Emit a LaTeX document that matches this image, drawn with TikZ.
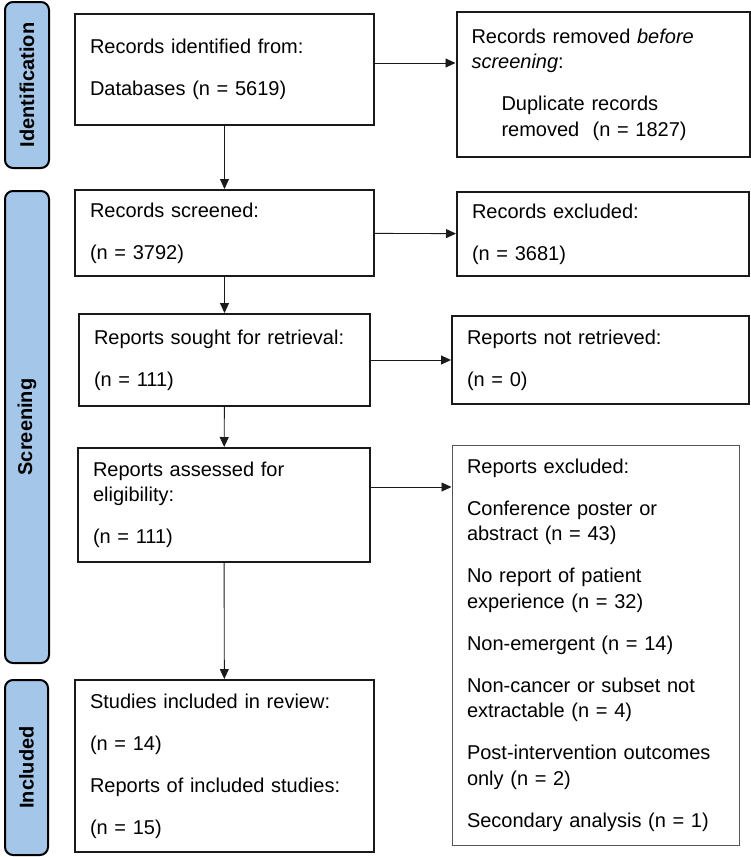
\documentclass[tikz,border=0pt]{standalone}
\usepackage{fontspec}
\setmainfont{Liberation Sans}
\definecolor{stage}{HTML}{A4C6E8}
\definecolor{edge}{HTML}{1A1A1A}
\definecolor{thinedge}{HTML}{555555}
\usetikzlibrary{arrows.meta}

\begin{document}
\begin{tikzpicture}[x=1pt,y=-1pt,>={Triangle[length=10pt,width=9pt]},
  every node/.style={font=\fontsize{20}{25.5}\selectfont},
  box/.style={draw=edge,line width=2pt,rectangle,align=left,inner xsep=15pt,inner ysep=0pt},
  bar/.style={draw=black,line width=2pt,fill=stage,rounded corners=8pt,rotate=90,inner sep=0pt,font=\fontsize{20}{24}\selectfont\bfseries}]
\useasboundingbox (0,0) rectangle (751,857);
% stages
\node[bar,minimum width=166pt,minimum height=44pt] (S1) at (27,85) {Identification};
\node[bar,minimum width=472pt,minimum height=44pt] (S2) at (27,427) {Screening};
\node[bar,minimum width=175pt,minimum height=43pt] (S3) at (26.5,767.5) {Included};
% boxes
\node[box,text width=269pt,minimum height=111pt] (A) at (224.5,69.5) {Records identified from:\\[16.5pt]Databases (n = 5619)};
\node[box,text width=263pt,minimum height=145pt] (B) at (603,84.5) {Records removed \textit{before}\\\textit{screening}:\\[16.5pt]\hspace*{30pt}Duplicate records\\\hspace*{30pt}removed\ \ (n = 1827)};
\node[box,text width=269pt,minimum height=86pt] (C) at (224.5,233) {Records screened:\\[16.5pt](n = 3792)};
\node[box,text width=262pt,minimum height=84pt] (D) at (603,234) {Records excluded:\\[16.5pt](n = 3681)};
\node[box,text width=261pt,minimum height=92pt] (E) at (224.5,360) {Reports sought for retrieval:\\[16.5pt](n = 111)};
\node[box,text width=267pt,minimum height=88pt] (F) at (600.5,360) {Reports not retrieved:\\[16.5pt](n = 0)};
\node[box,text width=262pt,minimum height=114pt] (G) at (224,505) {Reports assessed for\\eligibility:\\[16.5pt](n = 111)};
\node[box,draw=thinedge,line width=1pt,text width=257pt,minimum height=400pt] (H) at (595.5,645) {Reports excluded:\\[16.5pt]Conference poster or\\abstract (n = 43)\\[16.5pt]No report of patient\\experience (n = 32)\\[16.5pt]Non-emergent (n = 14)\\[16.5pt]Non-cancer or subset not\\extractable (n = 4)\\[16.5pt]Post-intervention outcomes\\only (n = 2)\\[16.5pt]Secondary analysis (n = 1)};
\node[box,text width=269pt,minimum height=172pt] (I) at (224.5,766) {Studies included in review:\\[16.5pt](n = 14)\\[16.5pt]Reports of included studies:\\[16.5pt](n = 15)};
% arrows
\draw[->,edge,line width=0.9pt] ([yshift=6.5pt]A.east) -- ([yshift=6.5pt]A.east -| B.west);
\draw[->,edge,line width=0.9pt] (A) -- (C);
\draw[->,edge,line width=0.9pt] (C) -- (D);
\draw[->,edge,line width=0.9pt] (C) -- (E);
\draw[->,edge,line width=0.9pt] (E) -- (F);
\draw[->,edge,line width=0.9pt] (E) -- (G);
\draw[->,edge,line width=0.9pt] ([yshift=18pt]G.east) -- ([yshift=18pt]G.east -| H.west);
\draw[->,edge,line width=0.9pt] (G) -- (I);
\end{tikzpicture}
\end{document}
